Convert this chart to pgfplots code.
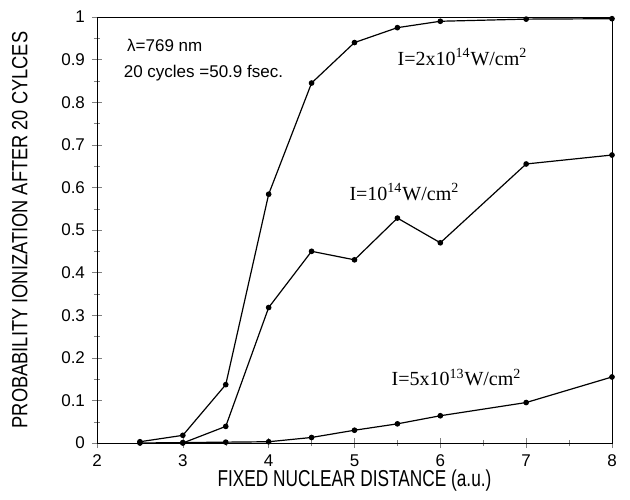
\documentclass[border=0pt]{standalone}
\usepackage{fontspec}
\setmainfont{Liberation Sans}
\newfontfamily\tnr{Liberation Serif}
\usepackage{graphicx}
\usepackage{pgfplots}
\pgfplotsset{compat=1.18}

\begin{document}
\begin{tikzpicture}
\pgfplotsset{curve/.style={black, line width=0.6pt, mark=*, mark size=1.1pt}}
\begin{axis}[
    scale only axis,
    width=257.5pt,
    height=213pt,
    xmin=2, xmax=8,
    ymin=0, ymax=1,
    xtick={2,3,4,5,6,7,8},
    ytick={0,0.1,0.2,0.3,0.4,0.5,0.6,0.7,0.8,0.9,1},
    minor x tick num=1,
    minor y tick num=1,
    xtick pos=left, ytick pos=left,
    tick align=center,
    major tick length=5pt,
    minor tick length=3pt,
    tick label style={font=\fontsize{8.5}{9}\selectfont},
    /pgf/number format/assume math mode=true,
    xlabel={\scalebox{0.75}[1]{FIXED NUCLEAR DISTANCE (a.u.)}},
    ylabel={\scalebox{0.83}[1]{PROBABILITY IONIZATION AFTER 20 CYLCES}},
    xlabel style={font=\fontsize{11.5}{12}\selectfont, at={(axis description cs:0.5,-0.087)}, anchor=center},
    ylabel style={font=\fontsize{11}{12}\selectfont, at={(axis description cs:-0.15,0.5)}, anchor=center},
    clip=false,
]
% I = 2x10^14 W/cm^2
\addplot[curve] coordinates {(2.5,0.003) (3,0.018) (3.5,0.137) (4,0.584) (4.5,0.845) (5,0.94) (5.5,0.975) (6,0.99) (7,0.995) (8,0.996)};
% I = 10^14 W/cm^2
\addplot[curve] coordinates {(3,0.0) (3.5,0.039) (4,0.318) (4.5,0.45) (5,0.43) (5.5,0.528) (6,0.47) (7,0.655) (8,0.676)};
% I = 5x10^13 W/cm^2
\addplot[curve] coordinates {(2.5,0.0) (3,0.001) (3.5,0.002) (4,0.003) (4.5,0.013) (5,0.03) (5.5,0.045) (6,0.064) (7,0.095) (8,0.155)};

\node[anchor=west, font=\fontsize{8.5}{10}\selectfont] at (axis cs:2.27,0.934) {λ=769 nm};
\node[anchor=west, font=\fontsize{8.5}{10}\selectfont] at (axis cs:2.23,0.868) {20 cycles =50.9 fsec.};
\node[anchor=west, font=\tnr\fontsize{10}{11}\selectfont] at (axis cs:5.42,0.906) {I=2x10\textsuperscript{14}W/cm\textsuperscript{2}};
\node[anchor=west, font=\tnr\fontsize{10}{11}\selectfont] at (axis cs:4.86,0.589) {I=10\textsuperscript{14}W/cm\textsuperscript{2}};
\node[anchor=west, font=\tnr\fontsize{10}{11}\selectfont] at (axis cs:5.35,0.153) {I=5x10\textsuperscript{13}W/cm\textsuperscript{2}};
\end{axis}
\pgfresetboundingbox
\path[use as bounding box] (-48.5pt,-28pt) rectangle (266.5pt,221.5pt);
\end{tikzpicture}
\end{document}
